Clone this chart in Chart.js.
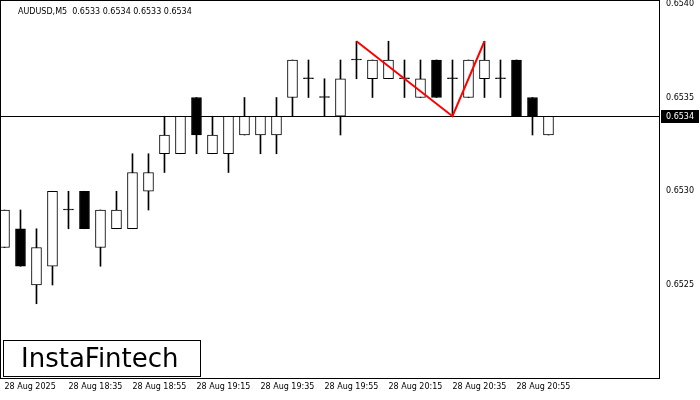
<!DOCTYPE html>
<html><head><meta charset="utf-8">
<script src="https://cdn.jsdelivr.net/npm/chart.js@4"></script>
<style>body{margin:0;background:#fff}#wrap{position:relative;width:700px;height:400px}</style>
</head><body><div id="wrap"><canvas id="c"></canvas></div>
<script>
// candles, 5 minute bars from 28 Aug 18:15
var OPEN  = [0.6527,0.6528,0.6525,0.6526,0.6529,0.6530,0.6527,0.6528,0.6528,0.6530,0.6532,0.6532,0.6535,0.6532,0.6532,0.6533,0.6533,0.6533,0.6535,0.6536,0.6535,0.6534,0.6537,0.6536,0.6536,0.6536,0.6535,0.6537,0.6536,0.6535,0.6536,0.6536,0.6537,0.6535,0.6533];
var HIGH  = [0.6529,0.6529,0.6528,0.6530,0.6530,0.6530,0.6529,0.6530,0.6532,0.6532,0.6534,0.6534,0.6535,0.6534,0.6534,0.6535,0.6534,0.6535,0.6537,0.6537,0.6536,0.6537,0.6538,0.6537,0.6538,0.6537,0.6537,0.6537,0.6537,0.6537,0.6538,0.6537,0.6537,0.6535,0.6534];
var LOW   = [0.6527,0.6526,0.6524,0.6525,0.6528,0.6528,0.6526,0.6528,0.6528,0.6529,0.6531,0.6532,0.6532,0.6532,0.6531,0.6533,0.6532,0.6532,0.6534,0.6535,0.6534,0.6533,0.6536,0.6535,0.6536,0.6535,0.6535,0.6535,0.6534,0.6535,0.6535,0.6535,0.6534,0.6533,0.6533];
var CLOSE = [0.6529,0.6526,0.6527,0.6530,0.6529,0.6528,0.6529,0.6529,0.6531,0.6531,0.6533,0.6534,0.6533,0.6533,0.6534,0.6534,0.6534,0.6534,0.6537,0.6536,0.6535,0.6536,0.6537,0.6537,0.6537,0.6536,0.6536,0.6535,0.6536,0.6537,0.6537,0.6536,0.6534,0.6534,0.6534];
var TIME_LABELS = ['28 Aug 2025','28 Aug 18:35','28 Aug 18:55','28 Aug 19:15','28 Aug 19:35','28 Aug 19:55','28 Aug 20:15','28 Aug 20:35','28 Aug 20:55'];
var PRICE_TICKS = [0.6525,0.6530,0.6535,0.6540];
var PATTERN = [{x:22,y:0.6538},{x:28,y:0.6534},{x:30,y:0.6538}];
var LEVEL = 0.6534;

var bodies=[], wicks=[], fill=[];
for (var i=0;i<OPEN.length;i++){
  bodies.push({x:i,y:[OPEN[i],CLOSE[i]]});
  wicks.push({x:i,y:[LOW[i],HIGH[i]]});
  fill.push(CLOSE[i]<=OPEN[i]?'#000':'#fff');
}
var FONT = {family:'DejaVu Sans',size:8};

var extras = {
  id:'extras',
  beforeDatasetsDraw:function(ch){
    var c=ch.ctx, a=ch.chartArea, y=ch.scales.y.getPixelForValue(LEVEL);
    c.save(); c.strokeStyle='#000'; c.lineWidth=1;
    c.beginPath(); c.moveTo(a.left,Math.round(y)+0.5); c.lineTo(a.right,Math.round(y)+0.5); c.stroke();
    c.restore();
  },
  afterDraw:function(ch){
    var c=ch.ctx, a=ch.chartArea, y=Math.round(ch.scales.y.getPixelForValue(LEVEL));
    c.save();
    c.strokeStyle='#000'; c.lineWidth=1;
    c.strokeRect(a.left+0.5,a.top+0.5,a.right-a.left-1,a.bottom-a.top);
    c.fillStyle='#000'; c.fillRect(a.right+1,y-6,38,13);
    c.fillStyle='#fff'; c.font='8px "DejaVu Sans"'; c.textBaseline='middle';
    c.fillText(LEVEL.toFixed(4),a.right+6,y+0.5);
    c.fillStyle='#000'; c.fillText('AUDUSD,M5  0.6533 0.6534 0.6533 0.6534',18,12);
    c.fillStyle='#fff'; c.fillRect(3,340,198,37);
    c.strokeRect(3.5,340.5,197,36);
    c.fillStyle='#000'; c.font='26px "DejaVu Sans"'; c.textBaseline='middle';
    c.fillText('InstaFintech',21,360);
    c.restore();
  }
};

new Chart(document.getElementById('c'),{
  data:{datasets:[
    {type:'bar',data:wicks,backgroundColor:'#000',barThickness:1,grouped:false,order:3},
    {type:'bar',data:bodies,backgroundColor:fill,borderColor:'#000',borderWidth:1,borderSkipped:false,barThickness:10,minBarLength:1,grouped:false,order:2},
    {type:'line',data:PATTERN,borderColor:'#ff0000',borderWidth:2,pointRadius:0,tension:0,order:1}
  ]},
  options:{
    responsive:true,maintainAspectRatio:false,animation:false,
    plugins:{legend:{display:false},tooltip:{enabled:false}},
    layout:{padding:0},
    scales:{
      x:{type:'linear',min:-0.28,max:40.97,offset:false,
        grid:{display:false,drawTicks:true,tickLength:4,color:'#000'},border:{display:false},
        afterBuildTicks:function(s){s.ticks=TIME_LABELS.map(function(t,k){return {value:k*4};});},
        afterFit:function(s){s.height=22;s.paddingLeft=0;s.paddingRight=0;},
        ticks:{color:'#000',font:FONT,align:'start',maxRotation:0,autoSkip:false,padding:0,
          callback:function(v){return TIME_LABELS[v/4];}}},
      y:{position:'right',min:0.652004,max:0.65402,
        grid:{display:false,tickLength:4,color:'#000'},border:{display:false},
        afterBuildTicks:function(s){s.ticks=PRICE_TICKS.map(function(v){return {value:v};});},
        afterFit:function(s){s.width=40;s.paddingTop=0;s.paddingBottom=0;},
        ticks:{color:'#000',font:FONT,padding:2,callback:function(v){return v.toFixed(4);}}}
    }
  },
  plugins:[extras]
});
</script></body></html>
